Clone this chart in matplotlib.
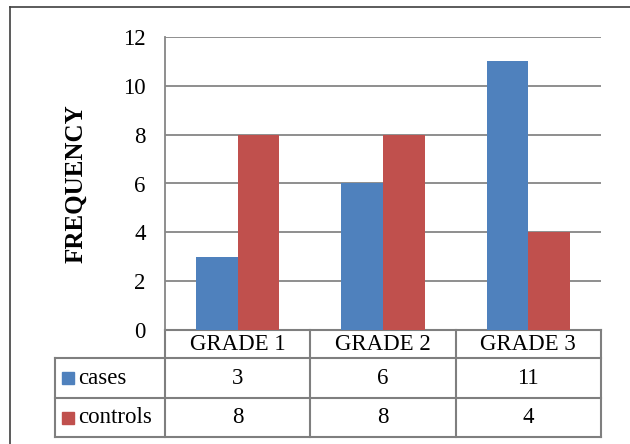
import numpy as np
import matplotlib.pyplot as plt
from matplotlib.transforms import blended_transform_factory
from matplotlib.patches import Rectangle

categories = ["GRADE 1", "GRADE 2", "GRADE 3"]
series_names = ["cases", "controls"]
cases = [3, 6, 11]
controls = [8, 8, 4]
colors = ["#4F81BD", "#C0504D"]

plt.rcParams['font.family'] = ['Liberation Serif', 'DejaVu Serif']

W, H = 630, 444
fs = 16.5
fig = plt.figure(figsize=(W / 100, H / 100), dpi=100)
ax = fig.add_axes([165 / W, (H - 330) / H, (601 - 165) / W, (330 - 37) / H])

x = np.arange(len(categories))
bw = 0.286
ax.bar(x - bw / 2, cases, bw, color=colors[0], zorder=3)
ax.bar(x + bw / 2, controls, bw, color=colors[1], zorder=3)

ax.set_xlim(-0.5, len(categories) - 0.5)
ax.set_ylim(0, 12)
ax.set_yticks(range(0, 13, 2))
ax.tick_params(axis='y', length=0, labelsize=fs, pad=14)
ax.set_xticks([])
ax.grid(axis='y', color='#868686', linewidth=1.3, zorder=0)
for s in ['top', 'right', 'bottom']:
    ax.spines[s].set_visible(False)
ax.spines['left'].set_color('#868686')
ax.spines['left'].set_linewidth(1.3)
ax.set_ylabel("FREQUENCY", fontsize=18, fontweight='bold', labelpad=26)

# data table under the axis
tr = blended_transform_factory(ax.transData, ax.transAxes)
px = 1 / (330 - 37)
rows_y = [0, -28 * px, -68 * px, -107 * px]
left_x = -0.5 - 110 / 145.3
lc = '#7F7F7F'
lw = 1.5
kw = dict(transform=tr, clip_on=False, color=lc, linewidth=lw)
ax.plot([-0.5, 2.5], [rows_y[0]] * 2, **kw)
for yy in rows_y[1:]:
    ax.plot([left_x, 2.5], [yy] * 2, **kw)
for xx in [-0.5, 0.5, 1.5, 2.5]:
    ax.plot([xx, xx], [rows_y[0], rows_y[3]], **kw)
ax.plot([left_x, left_x], [rows_y[1], rows_y[3]], **kw)

for i, c in enumerate(categories):
    ax.text(i, (rows_y[0] + rows_y[1]) / 2, c, transform=tr, ha='center',
            va='center', fontsize=fs)
for r, (name, vals) in enumerate(zip(series_names, [cases, controls])):
    yc = (rows_y[r + 1] + rows_y[r + 2]) / 2
    for i, v in enumerate(vals):
        ax.text(i, yc, str(v), transform=tr, ha='center', va='center', fontsize=fs)
    ax.add_patch(Rectangle((left_x + 7 / 145.3, yc - 6 * px), 12 / 145.3, 12 * px,
                           transform=tr, color=colors[r], clip_on=False))
    ax.text(left_x + 23 / 145.3, yc, name, transform=tr, ha='left', va='center',
            fontsize=fs)

# outer chart frame
fig.add_artist(plt.Line2D([10 / W, 1], [1 - 7 / H] * 2, color='#404040', linewidth=1.2))
fig.add_artist(plt.Line2D([10 / W] * 2, [0, 1 - 7 / H], color='#404040', linewidth=1.2))

fig.savefig("out.png", dpi=100)
